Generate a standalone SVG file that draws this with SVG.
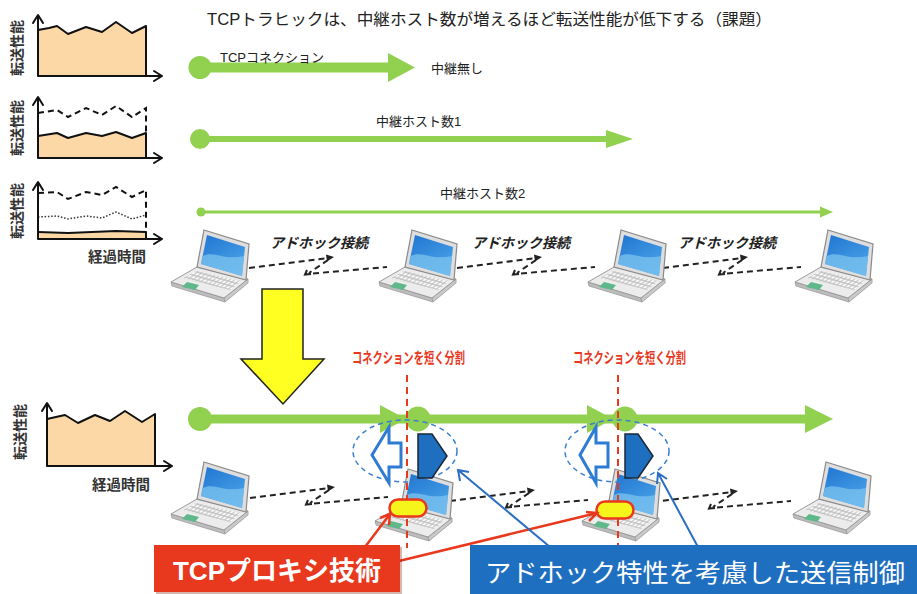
<svg xmlns="http://www.w3.org/2000/svg" xmlns:xlink="http://www.w3.org/1999/xlink" width="917" height="594" viewBox="0 0 917 594">
  <style>
    text { font-family: "Liberation Sans", "Noto Sans CJK JP", sans-serif; fill: #222; }
    .ax { fill: none; stroke: #111; stroke-width: 2; stroke-linejoin: round; stroke-linecap: round; }
    .area { fill: #fcd8a6; stroke: none; }
    .solid { fill: none; stroke: #111; stroke-width: 2; stroke-linejoin: round; }
    .dash { fill: none; stroke: #111; stroke-width: 2; stroke-dasharray: 6 4; }
    .dot { fill: none; stroke: #333; stroke-width: 1.5; stroke-dasharray: 1.5 1.8; }
    .ylab { font-size: 14px; font-weight: bold; fill: #333; }
    .xlab { font-size: 14.5px; font-weight: bold; fill: #333; }
    .green { fill: #92d050; }
    .gline { stroke: #92d050; fill: none; }
    .lbl { font-size: 13px; }
    .adhoc { font-size: 14px; font-style: italic; font-weight: bold; fill: #222; }
    .link { fill: none; stroke: #222; stroke-width: 2; stroke-dasharray: 6 4; }
    .split { stroke: #e8381e; stroke-width: 2; stroke-dasharray: 7 5; }
    .redlbl { font-size: 15px; font-weight: bold; fill: #e8381e; }
    .ell { fill: none; stroke: #3a7fd0; stroke-width: 1.5; stroke-dasharray: 5 4; }
    .hollow { fill: #fff; stroke: #2e7bd3; stroke-width: 3; stroke-linejoin: miter; }
    .solidarr { fill: #1f6fc0; stroke: #1b2735; stroke-width: 1.5; }
    .capsule { fill: #f5f51c; stroke: #e8381e; stroke-width: 2.5; }
    .redptr { fill: none; stroke: #e8381e; stroke-width: 2.5; }
    .blueptr { fill: none; stroke: #2a6fc4; stroke-width: 2; }
  </style>
  <defs>
    <linearGradient id="scr" x1="0" y1="0" x2="0.6" y2="1">
      <stop offset="0" stop-color="#1f74d0"/>
      <stop offset="1" stop-color="#4aa3e8"/>
    </linearGradient>
    <pattern id="keys" width="4" height="4" patternUnits="userSpaceOnUse" patternTransform="rotate(16) skewX(-35)">
      <rect width="4" height="4" fill="#bdbdbd"/>
      <rect x="0.6" y="0.6" width="2.8" height="2.8" fill="#fafafa"/>
    </pattern>
    <!-- laptop icon, about 80 x 71 -->
    <g id="laptop">
      <polygon points="1,51 54,67 55,71 2,55" fill="#bdbdbd" stroke="#9a9a9a" stroke-width="0.8"/>
      <polygon points="54,67 78,48 78,52 55,71" fill="#c9c9c9" stroke="#9a9a9a" stroke-width="0.8"/>
      <polygon points="27,36 78,48 54,67 1,51" fill="#ececec" stroke="#9a9a9a" stroke-width="1"/>
      <polygon points="27,40 71,50 60,59 13,47" fill="url(#keys)"/>
      <polygon points="17,51 29,54 25,59 12,56" fill="#5fb88a"/>
      <polygon points="34,-1 79,13 76,49 27,36" fill="#dedede" stroke="#8a8a8a" stroke-width="1.2"/>
      <polygon points="37,4 75,16 72,45 31,33" fill="url(#scr)"/>
      <path d="M33,25 C43,19 55,30 74,25 L72,45 L31,33 Z" fill="#7cc3ef" opacity="0.75"/>
    </g>
    <!-- wireless link: dashed zigzag between two laptops -->
    <g id="wlink">
      <path class="link" d="M0,11 L80,1"/>
      <polygon points="85,0 77,-2.5 78,4.5" fill="#222"/>
      <path class="link" d="M79,3 L60,16" stroke-dasharray="4 3"/>
      <path fill="none" stroke="#222" stroke-width="2" d="M58,13 L56,17.5 L62,17"/>
      <path class="link" d="M64,16.5 L138,10"/>
    </g>
  </defs>

  <!-- title -->
  <text x="207" y="25" font-size="16" textLength="565" lengthAdjust="spacingAndGlyphs">TCPトラヒックは、中継ホスト数が増えるほど転送性能が低下する（課題）</text>

  <!-- throughput charts -->
  <g id="chart-direct">
    <polygon class="area" points="38,30 49,28 57,26 68,34 86,27 102,32 116,22 132,33 146,26 146,76 38,76"/>
    <polyline class="solid" points="38,30 49,28 57,26 68,34 86,27 102,32 116,22 132,33 146,26 146,76"/>
    <path class="ax" d="M38,76 V16 M33,23 L38,15 L43,23 M38,76 H162 M154,71 L162,76 L154,81"/>
    <text class="ylab" transform="translate(17,48) rotate(-90)" text-anchor="middle" dominant-baseline="central">転送性能</text>
  </g>
  <g id="chart-relay1">
    <polygon class="area" points="38,136 57,133 68,138 86,133 102,136 116,132 132,138 146,133 146,158 38,158"/>
    <polyline class="solid" points="38,136 57,133 68,138 86,133 102,136 116,132 132,138 146,133 146,158"/>
    <polyline class="dash" points="38,113 57,110 68,117 86,108 102,115 116,106 132,117 146,108 146,158"/>
    <path class="ax" d="M38,158 V98 M33,105 L38,97 L43,105 M38,158 H162 M154,153 L162,158 L154,163"/>
    <text class="ylab" transform="translate(17,128) rotate(-90)" text-anchor="middle" dominant-baseline="central">転送性能</text>
  </g>
  <g id="chart-relay2">
    <polygon class="area" points="38,232 68,233 116,231 146,232 146,239 38,239"/>
    <polyline class="solid" points="38,232 68,233 116,231 146,232 146,239"/>
    <polyline class="dot" points="38,217 57,216 68,219 86,216 102,218 116,212 132,219 146,215"/>
    <polyline class="dash" points="38,193 57,192 68,199 86,192 102,195 116,187 132,197 146,190 146,239"/>
    <path class="ax" d="M38,239 V183 M33,190 L38,182 L43,190 M38,239 H162 M154,234 L162,239 L154,244"/>
    <text class="ylab" transform="translate(17,211) rotate(-90)" text-anchor="middle" dominant-baseline="central">転送性能</text>
    <text class="xlab" x="88" y="262">経過時間</text>
  </g>
  <g id="chart-proxy">
    <polygon class="area" points="47,419 65,415 78,423 95,415 110,421 125,411 142,422 155,414 155,466 47,466"/>
    <polyline class="solid" points="47,419 65,415 78,423 95,415 110,421 125,411 142,422 155,414 155,466"/>
    <path class="ax" d="M47,466 V404 M42,411 L47,403 L52,411 M47,466 H172 M164,461 L172,466 L164,471"/>
    <text class="ylab" transform="translate(20,432) rotate(-90)" text-anchor="middle" dominant-baseline="central">転送性能</text>
    <text class="xlab" x="92" y="490">経過時間</text>
  </g>

  <!-- TCP connections -->
  <g id="conn-direct">
    <line class="gline" x1="200" y1="67.5" x2="390" y2="67.5" stroke-width="10"/>
    <circle class="green" cx="200" cy="67.5" r="11.5"/>
    <polygon class="green" points="388,53 415,67.5 388,82"/>
    <text class="lbl" x="220" y="62">TCPコネクション</text>
    <text class="lbl" x="431" y="73">中継無し</text>
  </g>
  <g id="conn-relay1">
    <line class="gline" x1="200" y1="139" x2="610" y2="139" stroke-width="6"/>
    <circle class="green" cx="200" cy="139" r="10"/>
    <polygon class="green" points="606,130 633,139 606,148"/>
    <text class="lbl" x="376" y="126">中継ホスト数1</text>
  </g>
  <g id="conn-relay2">
    <line class="gline" x1="201" y1="212" x2="824" y2="212" stroke-width="3"/>
    <circle class="green" cx="201" cy="212" r="4.5"/>
    <polygon class="green" points="820,206.5 833,212 820,217.5"/>
    <text class="lbl" x="440" y="198">中継ホスト数2</text>
  </g>

  <!-- ad hoc network (top) -->
  <g id="adhoc-top">
    <use xlink:href="#wlink" href="#wlink" x="249" y="257"/>
    <use xlink:href="#wlink" href="#wlink" x="457" y="257"/>
    <use xlink:href="#wlink" href="#wlink" x="663" y="257"/>
    <text class="adhoc" x="270" y="248">アドホック接続</text>
    <text class="adhoc" x="472" y="248">アドホック接続</text>
    <text class="adhoc" x="678" y="248">アドホック接続</text>
  </g>
  <g id="pc-top-1"><use xlink:href="#laptop" href="#laptop" x="170" y="231"/></g>
  <g id="pc-top-2"><use xlink:href="#laptop" href="#laptop" x="378" y="231"/></g>
  <g id="pc-top-3"><use xlink:href="#laptop" href="#laptop" x="587" y="231"/></g>
  <g id="pc-top-4"><use xlink:href="#laptop" href="#laptop" x="794" y="231"/></g>

  <!-- big transition arrow -->
  <g id="down-arrow">
    <polygon points="262,289 303,289 303,359 324,359 283,404 241,359 262,359" fill="#ffff22" stroke="#222" stroke-width="1.5"/>
  </g>

  <!-- ad hoc network (bottom) -->
  <g id="adhoc-bottom">
    <use xlink:href="#wlink" href="#wlink" x="250" y="487"/>
    <use xlink:href="#wlink" href="#wlink" x="450" y="490"/>
    <use xlink:href="#wlink" href="#wlink" x="653" y="491"/>
  </g>
  <g id="pc-bot-1"><use xlink:href="#laptop" href="#laptop" x="170" y="463"/></g>
  <g id="pc-bot-2"><use xlink:href="#laptop" href="#laptop" x="374" y="470"/></g>
  <g id="pc-bot-3"><use xlink:href="#laptop" href="#laptop" x="581" y="470"/></g>
  <g id="pc-bot-4"><use xlink:href="#laptop" href="#laptop" x="792" y="463"/></g>

  <!-- split TCP connection -->
  <g id="conn-split">
    <line class="gline" x1="200" y1="419" x2="808" y2="419" stroke-width="9"/>
    <circle class="green" cx="200" cy="419" r="12"/>
    <circle class="green" cx="418" cy="419" r="12.5"/>
    <circle class="green" cx="625" cy="419" r="12.5"/>
    <polygon class="green" points="380,405 406,419 380,433"/>
    <polygon class="green" points="587,405 613,419 587,433"/>
    <polygon class="green" points="805,405 833,419 805,433"/>
  </g>

  <!-- flow control at relay nodes -->
  <g id="relay-1">
    <ellipse class="ell" cx="405" cy="451" rx="52" ry="31"/>
    <polygon class="hollow" points="372,455 389,427 389,443 401,443 401,467 389,467 389,483"/>
    <polygon class="solidarr" points="418,434 432,434 447,456 432,478 418,478"/>
    <line class="split" x1="407" y1="375" x2="407" y2="548"/>
    <rect class="capsule" x="389.5" y="499.5" width="37" height="17" rx="8.5"/>
    <text class="redlbl" x="352" y="363" textLength="113" lengthAdjust="spacingAndGlyphs">コネクションを短く分割</text>
  </g>
  <g id="relay-2">
    <ellipse class="ell" cx="617" cy="451" rx="52" ry="31"/>
    <polygon class="hollow" points="580,455 596,427 596,443 608,443 608,467 596,467 596,483"/>
    <polygon class="solidarr" points="625,434 638,434 653,456 638,478 625,478"/>
    <line class="split" x1="618" y1="375" x2="618" y2="548"/>
    <rect class="capsule" x="596.5" y="501.5" width="37" height="17" rx="8.5"/>
    <text class="redlbl" x="573" y="363" textLength="113" lengthAdjust="spacingAndGlyphs">コネクションを短く分割</text>
  </g>

  <!-- callout pointers -->
  <g id="pointers">
    <path class="redptr" d="M365,547 L390,514 M380,518 L390,514 L389,525"/>
    <path class="redptr" d="M399,561 L597,513 M586,512 L597,513 L589,521"/>
    <path class="blueptr" d="M550,547 L458,470 M460,481 L458,470 L469,472"/>
    <path class="blueptr" d="M698,547 L658,473 M657,484 L658,473 L667,479"/>
  </g>

  <!-- callouts -->
  <g id="callout-proxy">
    <rect x="156" y="547" width="246" height="47" fill="#8a2a1a" opacity="0.35"/>
    <rect x="154" y="545" width="246" height="47" fill="#e8381e"/>
    <text x="277" y="580" text-anchor="middle" font-size="26" font-weight="bold" style="fill:#fff">TCPプロキシ技術</text>
  </g>
  <g id="callout-control">
    <rect x="470" y="545" width="447" height="49" fill="#1f6fc1"/>
    <text x="485" y="582" font-size="25" textLength="420" lengthAdjust="spacingAndGlyphs" style="fill:#fff">アドホック特性を考慮した送信制御</text>
  </g>
</svg>
